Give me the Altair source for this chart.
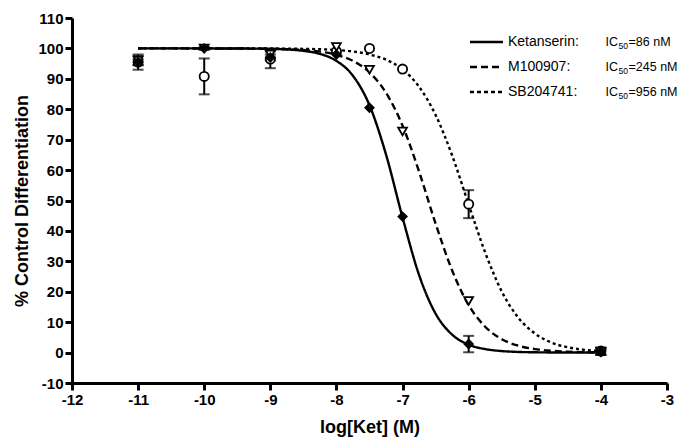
import altair as alt
import pandas as pd

# ---- data ----
series = ["Ketanserin", "M100907", "SB204741"]
ic50_text = ["=86 nM", "=245 nM", "=956 nM"]

# fitted curves
curve_x = [-11, -10.5, -10, -9.5, -9, -8.75, -8.5, -8.25, -8, -7.75, -7.5, -7.25,
           -7, -6.75, -6.5, -6.25, -6, -5.75, -5.5, -5.25, -5, -4.75, -4.5, -4.25, -4]
curve_ket = [100, 100, 100, 99.97, 99.86, 99.67, 99.2, 98.2, 95.9, 91.0, 81.3, 65.1,
             44.4, 25.5, 12.8, 5.9, 2.6, 1.15, 0.5, 0.21, 0.1, 0.04, 0.02, 0.01, 0]
curve_m10 = [100, 100, 99.99, 99.96, 99.86, 99.73, 99.46, 98.93, 97.9, 95.9, 92.1, 85.4,
             74.6, 59.5, 42.4, 27.0, 15.6, 8.5, 4.4, 2.27, 1.15, 0.58, 0.29, 0.15, 0.07]
curve_sb = [100, 100, 100, 99.99, 99.96, 99.93, 99.86, 99.72, 99.47, 99.0, 98.0, 96.3,
            93.1, 87.4, 78.1, 64.8, 48.7, 32.9, 20.1, 11.5, 6.3, 3.3, 1.75, 0.9, 0.47]

# measured points (mean, error)
pt_x = [-11, -10, -9, -8, -7.5, -7, -6, -4]
ket_mean = [95.5, 100, 97, 98, 80.5, 44.7, 2.8, 0.2]
ket_err = [2.5, 0, 1, 0, 0, 0, 2.7, 1.0]
m10_mean = [96, 100, 98, 100.5, 93, 72.7, 17, 0.3]
m10_err = [1.5, 0.5, 1, 0, 0, 0, 0, 1.0]
sb_mean = [95.5, 90.8, 96.5, 99, 100, 93.2, 48.8, 0.5]
sb_err = [1, 5.9, 3, 0, 0, 0, 4.6, 1.2]

# ---- tables ----
curves = pd.concat([
    pd.DataFrame({"x": curve_x, "y": curve_ket, "series": series[0]}),
    pd.DataFrame({"x": curve_x, "y": curve_m10, "series": series[1]}),
    pd.DataFrame({"x": curve_x, "y": curve_sb, "series": series[2]}),
], ignore_index=True)

# drawn in this order: circles, then triangles, then diamonds on top
pts = pd.concat([
    pd.DataFrame({"x": pt_x, "y": sb_mean, "e": sb_err, "series": series[2]}),
    pd.DataFrame({"x": pt_x, "y": m10_mean, "e": m10_err, "series": series[1]}),
    pd.DataFrame({"x": pt_x, "y": ket_mean, "e": ket_err, "series": series[0]}),
], ignore_index=True)
pts["ord"] = range(len(pts))
pts["lo"] = pts["y"] - pts["e"]
pts["hi"] = pts["y"] + pts["e"]
errs = pts[pts["e"] > 0]

FONT = "Liberation Sans"
xscale = alt.Scale(domain=[-12, -3], nice=False, zero=False)
yscale = alt.Scale(domain=[-10, 110], nice=False, zero=False)

xaxis = alt.Axis(values=list(range(-12, -2)), labelExpr="'' + datum.value",
                 labelOverlap=False, title="log[Ket] (M)", titleY=49,
                 titleBaseline="alphabetic")
yaxis = alt.Axis(values=list(range(-10, 111, 10)), labelExpr="'' + datum.value",
                 labelOverlap=False, title="% Control Differentiation", titleX=-45,
                 titleBaseline="alphabetic")

def X(field):
    return alt.X(field, type="quantitative", scale=xscale, axis=xaxis)

def Y(field):
    return alt.Y(field, type="quantitative", scale=yscale, axis=yaxis)

dash = alt.StrokeDash("series:N", scale=alt.Scale(domain=series, range=[[1, 0], [7, 4], [3, 3]]),
                      legend=None)

lines = alt.Chart(curves).mark_line(color="black", strokeWidth=2.4, interpolate="monotone").encode(
    x=X("x"), y=Y("y"), strokeDash=dash, detail="series:N",
)

bars = alt.Chart(errs).mark_rule(color="black", strokeWidth=2).encode(
    x=X("x"), y=Y("lo"), y2="hi:Q")
cap_lo = alt.Chart(errs).mark_tick(color="black", orient="horizontal", size=11, thickness=2).encode(
    x=X("x"), y=Y("lo"))
cap_hi = alt.Chart(errs).mark_tick(color="black", orient="horizontal", size=11, thickness=2).encode(
    x=X("x"), y=Y("hi"))

points = alt.Chart(pts).mark_point(filled=True, stroke="black", strokeWidth=1.8,
                                   opacity=1, strokeOpacity=1).encode(
    x=X("x"), y=Y("y"),
    shape=alt.Shape("series:N", scale=alt.Scale(domain=series,
                    range=["diamond", "triangle-down", "circle"]), legend=None),
    fill=alt.Fill("series:N", scale=alt.Scale(domain=series,
                  range=["black", "white", "white"]), legend=None),
    size=alt.Size("series:N", scale=alt.Scale(domain=series, range=[70, 85, 42]), legend=None),
    order=alt.Order("ord:Q"),
)

# ---- custom legend ----
one = pd.DataFrame({"a": [0]})
legend_layers = []
dashes = [[1, 0], [7, 4], [4, 3]]
for i, name in enumerate(series):
    ry = 24 + i * 25
    legend_layers.append(alt.Chart(one).mark_rule(color="black", strokeWidth=2.4,
                                                  strokeDash=dashes[i]).encode(
        x=alt.value(398), x2=alt.value(431), y=alt.value(ry)))
    legend_layers.append(alt.Chart(one).mark_text(align="left", baseline="middle", font=FONT,
                                                  fontSize=14, color="black").encode(
        x=alt.value(436), y=alt.value(ry), text=alt.value(name + ":")))
    legend_layers.append(alt.Chart(one).mark_text(align="left", baseline="middle", font=FONT,
                                                  fontSize=12.5, color="black").encode(
        x=alt.value(533.5), y=alt.value(ry), text=alt.value("IC")))
    legend_layers.append(alt.Chart(one).mark_text(align="left", baseline="middle", font=FONT,
                                                  fontSize=8.5, color="black").encode(
        x=alt.value(546.5), y=alt.value(ry + 4), text=alt.value("50")))
    legend_layers.append(alt.Chart(one).mark_text(align="left", baseline="middle", font=FONT,
                                                  fontSize=12.5, color="black").encode(
        x=alt.value(556.5), y=alt.value(ry), text=alt.value(ic50_text[i])))

chart = alt.layer(lines, bars, cap_lo, cap_hi, points, *legend_layers).properties(
    width=595, height=365,
    autosize=alt.AutoSizeParams(type="none"),
    padding={"left": 64, "top": 10, "right": 10, "bottom": 54},
).configure_view(stroke=None).configure_axis(
    grid=False,
    domainColor="black", domainWidth=3,
    tickColor="black", tickWidth=3, tickSize=7,
    labelFont=FONT, labelFontWeight="bold", labelFontSize=15, labelColor="black",
    labelPadding=2,
    titleFont=FONT, titleFontWeight="bold", titleFontSize=18, titleColor="black",
).configure_axisX(labelFlush=False).configure_axisY(labelFlush=False)

chart.save("out.html", embed_options={"renderer": "svg", "actions": False})
